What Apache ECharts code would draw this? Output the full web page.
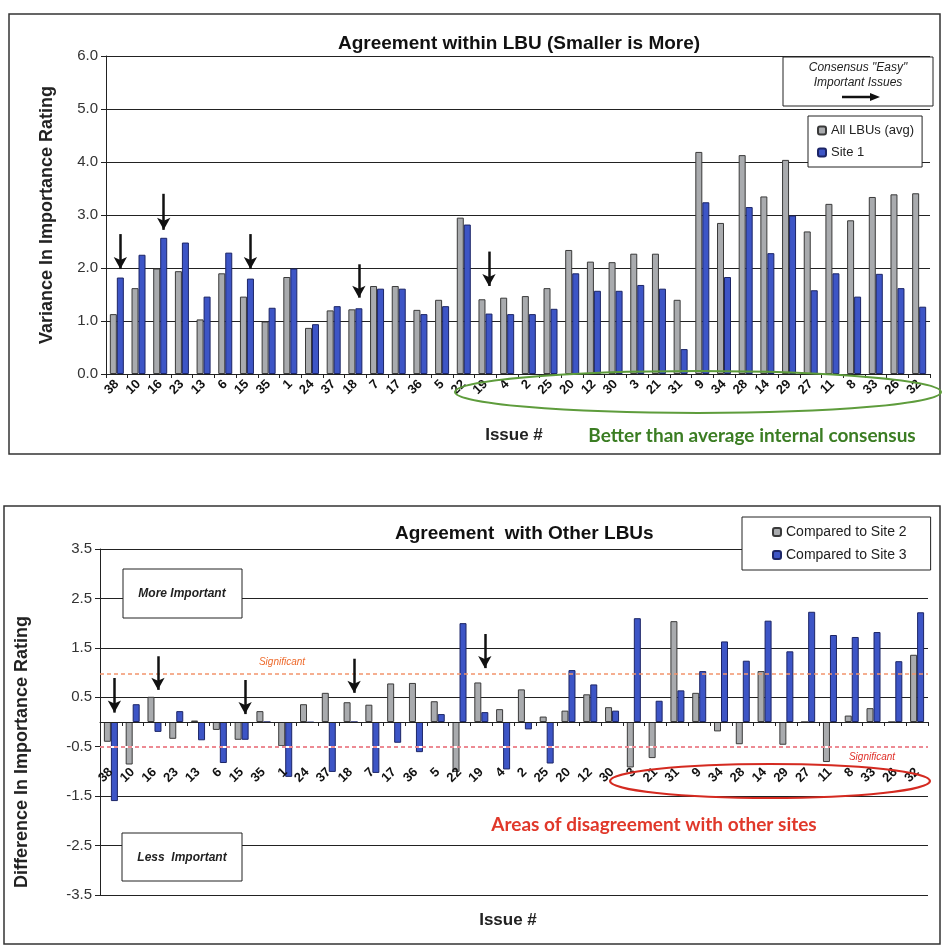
<!DOCTYPE html>
<html>
<head>
<meta charset="utf-8">
<script src="https://cdn.jsdelivr.net/npm/echarts@6/dist/echarts.min.js"></script>
<style>
  html, body { margin: 0; padding: 0; background: #ffffff; }
  #chart { width: 943px; height: 949px; }
</style>
</head>
<body>
<div id="chart"></div>
<script>
// Issue numbers, in the order they are plotted (same order for both panels)
const issues = ['38','10','16','23','13','6','15','35','1','24','37','18','7','17','36','5','22',
                '19','4','2','25','20','12','30','3','21','31','9','34','28','14','29','27','11','8','33','26','32'];

// Panel 1: variance in importance rating
const allLBUsAvg = [1.13,1.62,1.99,1.94,1.03,1.90,1.46,0.99,1.83,0.87,1.20,1.22,1.66,1.66,1.21,1.40,2.95,
                    1.41,1.44,1.47,1.62,2.34,2.12,2.11,2.27,2.27,1.40,4.19,2.85,4.13,3.35,4.04,2.69,3.21,2.90,3.34,3.39,3.41];
const site1 =      [1.82,2.25,2.57,2.48,1.46,2.29,1.80,1.25,1.99,0.94,1.28,1.24,1.61,1.61,1.13,1.28,2.82,
                    1.14,1.13,1.13,1.23,1.90,1.57,1.57,1.68,1.61,0.47,3.24,1.83,3.15,2.28,2.99,1.58,1.90,1.46,1.89,1.62,1.27];

// Panel 2: difference in importance rating versus the other sites
const vsSite2 = [-0.40,-0.86,0.51,-0.34,0.03,-0.16,-0.36,0.22,-0.49,0.36,0.59,0.40,0.35,0.78,0.79,0.42,-1.01,
                 0.80,0.26,0.66,0.11,0.23,0.56,0.30,-0.92,-0.73,2.04,0.59,-0.19,-0.45,1.03,-0.46,0.00,-0.81,0.13,0.28,0.00,1.36];
const vsSite3 = [-1.60,0.36,-0.20,0.22,-0.37,-0.83,-0.36,0.00,-1.11,-0.01,-1.01,0.00,-1.03,-0.42,-0.61,0.16,2.00,
                 0.20,-0.96,-0.15,-0.84,1.05,0.76,0.23,2.10,0.43,0.64,1.03,1.63,1.24,2.05,1.43,2.23,1.76,1.72,1.82,1.23,2.22];

// Significance thresholds
const sigUpper = 0.97;
const sigLower = -0.5;

// Highlighted issues (arrow from / to, in rating units)
const flaggedIssues = ['38','16','15','18','19'];
const flagTopFrom = [2.64, 3.40, 2.64, 2.07, 2.31];
const flagTopTo   = [1.98, 2.72, 1.98, 1.44, 1.66];
const flagBotFrom = [0.89, 1.33, 0.85, 1.28, 1.78];
const flagBotTo   = [0.19, 0.65, 0.16, 0.59, 1.09];

const GRAY = '#a9abae', GRAY_EDGE = '#3a3a3a';
const BLUE = '#3d55c6', BLUE_EDGE = '#1c2566';
const FONT = '"Liberation Sans", Arial, sans-serif';
const NOTE_FONT = 'Lato, "Open Sans", sans-serif';

// lower panel geometry: the category axis sits on the zero line
const LOW_TOP = 549, LOW_H = 346, LOW_MIN = -3.5, LOW_MAX = 3.5;
const zeroOffset = LOW_H * (0 - LOW_MIN) / (LOW_MAX - LOW_MIN) - LOW_H;

function arrowLines(from, to) {
  return flaggedIssues.map((c, i) => [{ coord: [c, from[i]] }, { coord: [c, to[i]] }]);
}

const arrowStyle = {
  silent: true,
  symbol: ['none', 'arrow'],
  symbolSize: [10, 12],
  label: { show: false },
  lineStyle: { color: '#111', width: 2.5, type: 'solid' }
};

const chart = echarts.init(document.getElementById('chart'), null, { renderer: 'canvas' });

const catAxisBase = {
  type: 'category',
  data: issues,
  axisLine: { lineStyle: { color: '#222', width: 1 } },
  axisTick: { show: true, length: 4, interval: 0, lineStyle: { color: '#222' } },
  splitLine: { show: false },
  axisLabel: { interval: 0, rotate: 45, fontFamily: FONT, fontWeight: 'bold', fontSize: 13, color: '#111' }
};

const valAxisBase = {
  type: 'value',
  axisLine: { show: true, lineStyle: { color: '#222', width: 1 } },
  axisTick: { show: true, length: 5, lineStyle: { color: '#222' } },
  splitLine: { show: true, lineStyle: { color: '#222', width: 1 } },
  axisLabel: { fontFamily: FONT, fontSize: 15, color: '#333', formatter: v => v.toFixed(1) },
  nameLocation: 'middle',
  nameTextStyle: { fontFamily: FONT, fontWeight: 'bold', fontSize: 18, color: '#222' }
};

const option = {
  backgroundColor: '#ffffff',
  animation: false,
  title: [
    { text: 'Agreement within LBU (Smaller is More)', left: 333, top: 29,
      textStyle: { fontFamily: FONT, fontWeight: 'bold', fontSize: 19, color: '#111' } },
    { text: 'Agreement  with Other LBUs', left: 390, top: 519,
      textStyle: { fontFamily: FONT, fontWeight: 'bold', fontSize: 19, color: '#111' } }
  ],
  legend: [
    { data: ['All LBUs (avg)', 'Site 1'], orient: 'vertical', left: 808, top: 116,
      backgroundColor: '#fff', borderColor: '#222', borderWidth: 1, borderRadius: 0,
      padding: [8, 8, 8, 9], itemWidth: 8, itemHeight: 8, itemGap: 9,
      textStyle: { fontFamily: FONT, fontSize: 13, color: '#222' } },
    { data: ['Compared to Site 2', 'Compared to Site 3'], orient: 'vertical', left: 742, top: 517,
      backgroundColor: '#fff', borderColor: '#222', borderWidth: 1, borderRadius: 0,
      padding: [8, 24, 8, 30], itemWidth: 8, itemHeight: 8, itemGap: 9,
      textStyle: { fontFamily: FONT, fontSize: 14, color: '#222' } }
  ],
  grid: [
    { left: 106, right: 13, top: 56, height: 318 },
    { left: 100, right: 15, top: LOW_TOP, height: LOW_H }
  ],
  xAxis: [
    Object.assign({}, catAxisBase, { gridIndex: 0,
      axisLabel: Object.assign({}, catAxisBase.axisLabel, { margin: 8 }) }),
    Object.assign({}, catAxisBase, { gridIndex: 1, position: 'bottom', offset: zeroOffset, z: 5,
      axisLine: { onZero: false, lineStyle: { color: '#222', width: 1 } },
      axisLabel: Object.assign({}, catAxisBase.axisLabel, { margin: 48 }) })
  ],
  yAxis: [
    Object.assign({}, valAxisBase, { gridIndex: 0, min: 0, max: 6, interval: 1,
      name: 'Variance In Importance Rating', nameGap: 50 }),
    Object.assign({}, valAxisBase, { gridIndex: 1, min: LOW_MIN, max: LOW_MAX, interval: 1 })
  ],
  series: [
    { name: 'All LBUs (avg)', type: 'bar', xAxisIndex: 0, yAxisIndex: 0, data: allLBUsAvg,
      barWidth: 7, barGap: '0%',
      itemStyle: { color: GRAY, borderColor: GRAY_EDGE, borderWidth: 1 } },
    { name: 'Site 1', type: 'bar', xAxisIndex: 0, yAxisIndex: 0, data: site1,
      barWidth: 7, barGap: '0%',
      itemStyle: { color: BLUE, borderColor: BLUE_EDGE, borderWidth: 1 },
      markLine: Object.assign({}, arrowStyle, { data: arrowLines(flagTopFrom, flagTopTo) }) },
    { name: 'Compared to Site 2', type: 'bar', xAxisIndex: 1, yAxisIndex: 1, data: vsSite2,
      barWidth: 7, barGap: '0%',
      itemStyle: { color: GRAY, borderColor: GRAY_EDGE, borderWidth: 1 },
      markLine: {
        silent: true, symbol: ['none', 'none'], label: { show: false },
        data: [
          { yAxis: sigLower, lineStyle: { color: '#ffffff', width: 2, type: 'solid' } },
          { yAxis: sigLower, lineStyle: { color: '#e86470', width: 1.5, type: [4, 3] } },
          { yAxis: sigUpper, lineStyle: { color: '#f2946c', width: 1.5, type: [4, 3] } }
        ]
      } },
    { name: 'Compared to Site 3', type: 'bar', xAxisIndex: 1, yAxisIndex: 1, data: vsSite3,
      barWidth: 7, barGap: '0%',
      itemStyle: { color: BLUE, borderColor: BLUE_EDGE, borderWidth: 1 },
      markLine: Object.assign({}, arrowStyle, { data: arrowLines(flagBotFrom, flagBotTo) }) }
  ],
  graphic: [
    // panel frames
    { type: 'rect', z: 1, shape: { x: 9, y: 14, width: 931, height: 440 },
      style: { fill: 'none', stroke: '#333', lineWidth: 1.5 } },
    { type: 'rect', z: 1, shape: { x: 4, y: 506, width: 936, height: 438 },
      style: { fill: 'none', stroke: '#333', lineWidth: 1.5 } },

    // "easy" consensus note
    { type: 'rect', z: 100, shape: { x: 783, y: 57, width: 150, height: 49 },
      style: { fill: '#fff', stroke: '#222', lineWidth: 1 } },
    { type: 'text', z: 101, x: 858, y: 68,
      style: { text: 'Consensus "Easy"', font: 'italic 12px ' + FONT, fill: '#222', textAlign: 'center', textVerticalAlign: 'middle' } },
    { type: 'text', z: 101, x: 858, y: 83,
      style: { text: 'Important Issues', font: 'italic 12px ' + FONT, fill: '#222', textAlign: 'center', textVerticalAlign: 'middle' } },
    { type: 'line', z: 101, shape: { x1: 842, y1: 97, x2: 872, y2: 97 }, style: { stroke: '#111', lineWidth: 2.5 } },
    { type: 'polygon', z: 101, shape: { points: [[870, 93], [880, 97], [870, 101]] }, style: { fill: '#111' } },

    // consensus group outline + notes
    { type: 'ellipse', z: 50, shape: { cx: 698, cy: 392, rx: 243, ry: 21 },
      style: { fill: 'none', stroke: '#5e9c3c', lineWidth: 2 } },
    { type: 'text', z: 50, x: 514, y: 435,
      style: { text: 'Issue #', font: 'bold 17px ' + FONT, fill: '#222', textAlign: 'center', textVerticalAlign: 'middle' } },
    { type: 'text', z: 50, x: 752, y: 436,
      style: { text: 'Better than average internal consensus', font: 'bold 19px ' + NOTE_FONT, fill: '#3b7d23', textAlign: 'center', textVerticalAlign: 'middle' } },

    // lower panel axis name
    { type: 'text', z: 50, x: 22, y: 752, rotation: Math.PI / 2,
      style: { text: 'Difference In Importance Rating', font: 'bold 18px ' + FONT, fill: '#222', textAlign: 'center', textVerticalAlign: 'middle' } },

    // importance boxes
    { type: 'rect', z: 100, shape: { x: 123, y: 569, width: 119, height: 49 },
      style: { fill: '#fff', stroke: '#222', lineWidth: 1 } },
    { type: 'text', z: 101, x: 182, y: 594,
      style: { text: 'More Important', font: 'italic bold 12px ' + FONT, fill: '#222', textAlign: 'center', textVerticalAlign: 'middle' } },
    { type: 'rect', z: 100, shape: { x: 122, y: 833, width: 120, height: 48 },
      style: { fill: '#fff', stroke: '#222', lineWidth: 1 } },
    { type: 'text', z: 101, x: 182, y: 858,
      style: { text: 'Less  Important', font: 'italic bold 12px ' + FONT, fill: '#222', textAlign: 'center', textVerticalAlign: 'middle' } },

    // significance labels
    { type: 'text', z: 50, x: 282, y: 662,
      style: { text: 'Significant', font: 'italic 10px ' + FONT, fill: '#ee6a2c', textAlign: 'center', textVerticalAlign: 'middle' } },
    { type: 'text', z: 50, x: 872, y: 757,
      style: { text: 'Significant', font: 'italic 10px ' + FONT, fill: '#e0302a', textAlign: 'center', textVerticalAlign: 'middle' } },

    // disagreement group outline + notes
    { type: 'ellipse', z: 50, shape: { cx: 770, cy: 781, rx: 160, ry: 17 },
      style: { fill: 'none', stroke: '#d42a20', lineWidth: 2.2 } },
    { type: 'text', z: 50, x: 654, y: 825,
      style: { text: 'Areas of disagreement with other sites', font: 'bold 19px ' + NOTE_FONT, fill: '#e0382a', textAlign: 'center', textVerticalAlign: 'middle' } },
    { type: 'text', z: 50, x: 508, y: 920,
      style: { text: 'Issue #', font: 'bold 17px ' + FONT, fill: '#222', textAlign: 'center', textVerticalAlign: 'middle' } }
  ]
};

chart.setOption(option);
</script>
</body>
</html>
